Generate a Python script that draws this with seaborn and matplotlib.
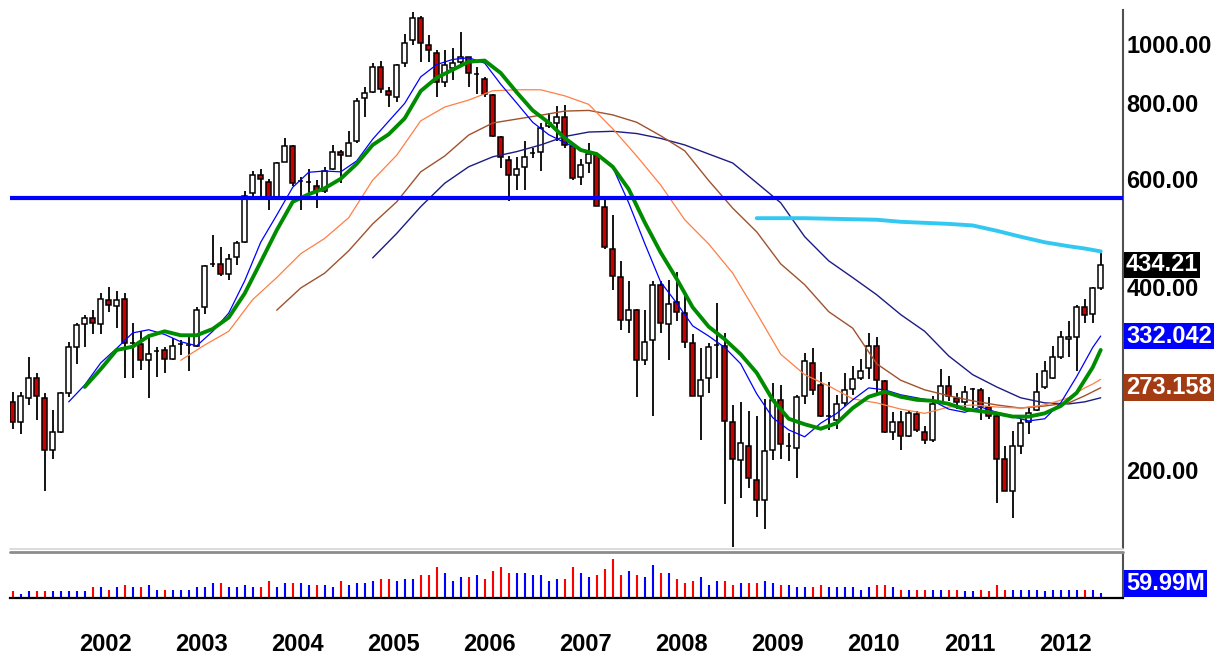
import numpy as np
import pandas as pd
import seaborn as sns
import matplotlib
matplotlib.use("Agg")
from matplotlib import pyplot as plt
from matplotlib.lines import Line2D
from matplotlib.ticker import NullLocator

# monthly bars, Jan 2001 .. May 2012
months = pd.date_range("2001-01-01", periods=137, freq="MS")

open_ = [259, 240, 263, 283, 263, 216, 231, 268, 319, 348,
         355, 348, 380, 372, 382, 323, 322, 303, 314, 315,
         304, 322, 321, 320, 371, 435, 435, 420, 447, 474,
         569, 609, 594, 562, 641, 680, 595, 593, 585, 573,
         623, 666, 656, 692, 814, 835, 918, 838, 819, 929,
         1015, 1101, 996, 968, 867, 912, 935, 951, 893, 875,
         825, 705, 645, 610, 629, 662, 666, 734, 743, 760,
         679, 606, 637, 658, 540, 461, 415, 353, 367, 303,
         327, 403, 348, 378, 362, 323, 265, 283, 321, 320,
         240, 208, 219, 193, 179, 216, 261, 219, 218, 265,
         300, 276, 246, 242, 258, 272, 283, 294, 320, 280,
         231, 240, 228, 247, 231, 224, 258, 275, 263, 259,
         272, 271, 254, 246, 209, 185, 219, 240, 251, 274,
         283, 307, 328, 331, 370, 361, 398]
high = [269, 269, 307, 289, 268, 251, 269, 325, 349, 360,
        367, 390, 400, 393, 390, 349, 338, 334, 319, 319,
        329, 327, 334, 370, 434, 486, 464, 453, 476, 573,
        619, 624, 601, 641, 701, 683, 606, 623, 598, 629,
        683, 670, 720, 814, 849, 932, 939, 849, 927, 1037,
        1129, 1111, 1034, 977, 977, 984, 1045, 953, 918, 884,
        828, 707, 655, 653, 692, 675, 743, 771, 791, 794,
        687, 647, 687, 662, 559, 524, 440, 408, 368, 366,
        408, 408, 410, 423, 391, 334, 317, 323, 376, 336,
        256, 259, 250, 246, 262, 278, 276, 230, 266, 311,
        317, 290, 279, 266, 289, 297, 305, 336, 331, 281,
        249, 250, 250, 250, 236, 265, 293, 286, 268, 275,
        273, 273, 264, 249, 219, 232, 243, 254, 289, 302,
        320, 339, 351, 373, 382, 400, 455]
low = [234, 229, 256, 242, 185, 209, 230, 264, 299, 319,
       334, 334, 363, 342, 283, 283, 292, 263, 285, 289,
       303, 309, 291, 319, 361, 431, 417, 411, 434, 471,
       556, 556, 534, 561, 640, 585, 534, 562, 538, 569,
       622, 591, 654, 689, 758, 830, 830, 787, 804, 916,
       996, 935, 935, 817, 849, 873, 923, 849, 828, 817,
       703, 625, 552, 576, 576, 649, 618, 727, 692, 675,
       598, 587, 614, 542, 462, 395, 340, 336, 264, 298,
       246, 336, 303, 351, 317, 265, 224, 268, 283, 176,
       150, 180, 187, 168, 160, 208, 209, 207, 194, 257,
       266, 245, 233, 234, 255, 266, 281, 282, 266, 230,
       224, 216, 227, 231, 221, 223, 258, 260, 252, 251,
       253, 242, 243, 177, 185, 167, 213, 229, 250, 272,
       282, 305, 307, 291, 349, 349, 395]
close = [240, 265, 283, 265, 216, 231, 268, 318, 346, 356,
         349, 382, 373, 380, 323, 323, 303, 310, 314, 305,
         320, 322, 321, 367, 432, 435, 420, 444, 471, 563,
         609, 600, 559, 638, 679, 591, 595, 593, 575, 618,
         666, 658, 687, 807, 830, 918, 843, 825, 923, 1005,
         1101, 1005, 977, 867, 923, 929, 951, 897, 893, 828,
         707, 652, 610, 623, 653, 662, 727, 741, 760, 683,
         602, 633, 659, 543, 464, 417, 353, 367, 303, 325,
         403, 349, 375, 364, 325, 265, 281, 318, 321, 241,
         209, 222, 194, 179, 215, 261, 221, 219, 264, 302,
         271, 246, 246, 257, 271, 282, 291, 320, 281, 231,
         240, 228, 248, 233, 224, 257, 275, 265, 259, 269,
         272, 255, 246, 209, 185, 219, 239, 248, 269, 291,
         307, 331, 331, 370, 360, 398, 434.21]
volume_m = [80, 52, 80, 80, 80, 80, 80, 80, 80, 80,
            128, 128, 100, 128, 152, 128, 128, 152, 100, 100,
            100, 100, 100, 128, 128, 180, 180, 128, 128, 152,
            128, 128, 200, 128, 180, 180, 180, 152, 152, 152,
            128, 200, 152, 180, 180, 200, 228, 228, 200, 228,
            228, 280, 280, 372, 300, 200, 252, 252, 280, 228,
            320, 372, 300, 300, 300, 280, 280, 200, 228, 228,
            372, 300, 252, 280, 348, 468, 280, 320, 280, 252,
            400, 300, 300, 228, 180, 200, 252, 152, 200, 200,
            152, 180, 180, 180, 200, 180, 152, 152, 128, 128,
            128, 152, 128, 128, 128, 128, 100, 128, 152, 152,
            128, 100, 100, 100, 100, 100, 100, 100, 100, 80,
            80, 100, 80, 152, 100, 100, 100, 100, 100, 80,
            100, 100, 100, 100, 100, 100, 59.99]

# moving averages (month number -> value)
fast_idx = list(range(8, 137, 2)) + [137]
fast_ma = [259, 276, 300, 317, 336, 340, 334, 325, 320, 338,
           362, 409, 473, 524, 582, 616, 619, 617, 643, 698,
           747, 799, 883, 925, 943, 949, 930, 859, 800, 744,
           710, 689, 670, 660, 628, 549, 471, 407, 376, 345,
           332, 318, 299, 267, 244, 233, 227, 239, 248, 261,
           273, 271, 266, 263, 260, 252, 249, 254, 249, 245,
           241, 243, 258, 285, 318, 332.042]
green_idx = list(range(10, 137, 2)) + [137]
green_ma = [274, 293, 315, 319, 332, 338, 333, 333, 341, 356,
            390, 439, 495, 551, 567, 580, 601, 636, 683, 711,
            755, 837, 880, 907, 935, 939, 896, 833, 778, 743,
            701, 670, 660, 629, 578, 510, 455, 412, 370, 344,
            328, 310, 289, 261, 243, 238, 234, 239, 253, 264,
            269, 264, 261, 260, 257, 252, 250, 248, 245, 245,
            248, 255, 268, 295, 315]
orange_idx = [22, 25, 28, 31, 34, 37, 40, 43, 46, 49, 52, 55, 58, 61, 64, 67, 70, 73, 76, 79,
              82, 85, 88, 91, 94, 97, 100, 103, 106, 109, 112, 115, 118, 121, 124, 127, 130,
              133, 135, 136, 137]
orange_ma = [303, 321, 338, 381, 414, 453, 480, 519, 598, 657, 748, 788, 809, 838, 841, 841,
             822, 796, 726, 655, 587, 515, 470, 421, 362, 310, 287, 275, 262, 258, 252, 248,
             254, 256, 254, 253, 256, 263, 273, 277, 282]
brown_idx = [34, 37, 40, 43, 46, 49, 52, 55, 58, 61, 64, 67, 70, 73, 76, 79, 82, 85, 88, 91,
             94, 97, 100, 103, 106, 109, 112, 115, 118, 121, 124, 127, 130, 133, 135, 137]
brown_ma = [366, 398, 421, 458, 507, 551, 617, 655, 709, 742, 753, 764, 776, 778, 765, 744,
            707, 668, 597, 538, 492, 436, 403, 364, 342, 299, 281, 271, 265, 260, 256, 253,
            255, 258, 265, 273.158]
navy_idx = [46, 49, 52, 55, 58, 61, 64, 67, 70, 73, 76, 79, 82, 85, 88, 91, 94, 97, 100, 103,
            106, 109, 112, 115, 118, 121, 124, 127, 130, 133, 135, 137]
navy_ma = [446, 489, 541, 591, 629, 653, 666, 683, 705, 717, 719, 713, 700, 683, 660, 638,
           592, 549, 483, 441, 414, 388, 360, 338, 308, 287, 274, 263, 258, 257, 259, 263]
cyan_idx = [94, 97, 100, 103, 106, 109, 112, 115, 118, 121, 124, 127, 130, 133, 135, 137]
cyan_ma = [518, 518, 518, 517, 516, 515, 511, 509, 507, 504, 494, 483, 473, 466, 462, 457]

level = 560
price_ticks = [200, 400, 600, 800, 1000]

sns.set_theme(style="white")
plt.rcParams["font.family"] = ["Liberation Sans", "DejaVu Sans"]
FS = 17

W, H = 1223, 658
fig = plt.figure(figsize=(W / 100, H / 100), dpi=100)


def px_rect(x0, y0, x1, y1):
    return [x0 / W, 1 - y1 / H, (x1 - x0) / W, (y1 - y0) / H]


ax = fig.add_axes(px_rect(10, 10, 1123, 548))
axv = fig.add_axes(px_rect(10, 553, 1123, 598), sharex=ax)

df = pd.DataFrame({"n": np.arange(1, len(close) + 1), "open": open_, "high": high,
                   "low": low, "close": close, "volume": volume_m})
up = (df["close"] >= df["open"]).to_numpy()

ax.set_yscale("log")
ax.vlines(df["n"], df["low"], df["high"], color="black", lw=1.3, zorder=3)
ax.bar(df["n"], (df["close"] - df["open"]).abs(), bottom=df[["open", "close"]].min(axis=1),
       width=0.62, color=np.where(up, "white", "#c80000"), edgecolor="black",
       linewidth=1.1, zorder=4)

lines = [
    (navy_idx, navy_ma, "#1c1c84", 1.0),
    (brown_idx, brown_ma, "#a0522d", 1.0),
    (orange_idx, orange_ma, "#ff7f45", 0.9),
    (cyan_idx, cyan_ma, "#33c8f2", 2.8),
    (fast_idx, fast_ma, "#0000ff", 0.9),
    (green_idx, green_ma, "#008c00", 2.8),
]
for idx, vals, col, lw in lines:
    sns.lineplot(x=idx, y=vals, ax=ax, color=col, linewidth=lw, zorder=5)
ax.axhline(level, color="#0000ff", lw=3, zorder=6)

ax.set_xlim(1 - 2.7 / 8, 1 + (1123 - 12.7) / 8)
ax.set_ylim(149.2, 1136.5)
ax.yaxis.tick_right()
ax.set_yticks(price_ticks)
ax.set_yticklabels([f"{v:.2f}" for v in price_ticks], fontsize=FS, fontweight="bold")
ax.yaxis.set_minor_locator(NullLocator())
ax.tick_params(axis="y", length=0, pad=2.5, colors="black")
ax.tick_params(axis="x", bottom=False, labelbottom=False)
ax.set_xlabel("")
ax.set_ylabel("")
for side in ["left", "top", "bottom"]:
    ax.spines[side].set_visible(False)
ax.spines["right"].set_color("#505050")
ax.spines["right"].set_linewidth(1.5)


def tag(axis, xy, coords, text, bg):
    axis.annotate(text, xy=xy, xycoords=coords, xytext=(3, 0), textcoords="offset pixels",
                  ha="left", va="center", color="white", fontsize=FS, fontweight="bold",
                  bbox=dict(boxstyle="square,pad=0.08", fc=bg, ec="none"),
                  annotation_clip=False, zorder=10)


tag(ax, (1, close[-1]), ("axes fraction", "data"), f"{close[-1]:.2f}", "black")
tag(ax, (1, fast_ma[-1]), ("axes fraction", "data"), f"{fast_ma[-1]:.3f}", "#0000ff")
tag(ax, (1, brown_ma[-1]), ("axes fraction", "data"), f"{brown_ma[-1]:.3f}", "#a33c12")

# volume panel
axv.vlines(df["n"], 0, df["volume"], colors=np.where(up, "#0000ff", "#ff0000"), lw=1.5)
axv.set_ylim(0, 540)
axv.set_yticks([])
year_pos = [n - 0.4 for n, m in zip(df["n"], months) if m.month == 1 and m.year >= 2002]
year_lab = [str(m.year) for m in months if m.month == 1 and m.year >= 2002]
axv.set_xticks(year_pos)
axv.set_xticklabels(year_lab, fontsize=FS, fontweight="bold")
axv.tick_params(axis="x", length=0, pad=25, colors="black")
for side in ["left", "top"]:
    axv.spines[side].set_visible(False)
axv.spines["right"].set_color("#505050")
axv.spines["right"].set_linewidth(1.5)
axv.spines["bottom"].set_color("black")
axv.spines["bottom"].set_linewidth(1.6)
tag(axv, (1, 0.33), ("axes fraction", "axes fraction"), f"{volume_m[-1]:.2f}M", "#0000ff")

# separator between panels
fig.add_artist(Line2D([10 / W, 1123 / W], [1 - 548.5 / H] * 2, color="#d6d6d6", lw=1.2))
fig.add_artist(Line2D([10 / W, 1123 / W], [1 - 551.5 / H] * 2, color="#8c8c8c", lw=2.0))

fig.savefig("out.png", dpi=100)
